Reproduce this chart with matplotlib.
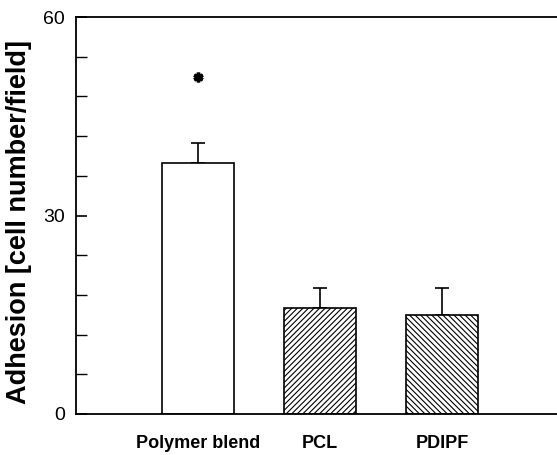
import numpy as np
import matplotlib.pyplot as plt
from matplotlib.ticker import MultipleLocator

plt.rcParams['font.family'] = ['Liberation Sans', 'DejaVu Sans']
plt.rcParams['hatch.linewidth'] = 0.8

# данные
groups = ['Polymer blend', 'PCL', 'PDIPF']
adhesion = [38, 16, 15]
err_up = [3, 3, 4]
hatches = ['', '//////', '\\\\\\\\\\\\']
star_y = 51

fig = plt.figure(figsize=(5.57, 4.55), dpi=100)
ax = fig.add_axes([76 / 557, 1 - 414 / 455, 481 / 557, 397 / 455])

x = np.arange(1, len(groups) + 1)
for xi, v, e, h in zip(x, adhesion, err_up, hatches):
    ax.bar(xi, v, width=0.59, color='white', edgecolor='black', linewidth=1.2,
           hatch=h, zorder=2)
    ax.errorbar(xi, v, yerr=[[0], [e]], fmt='none', ecolor='black',
                elinewidth=1.2, capsize=5, capthick=1.2, zorder=1)

# звездочка значимости
ax.plot(x[0], star_y, marker=(6, 2, 0), ms=7, mew=2.5, color='black')

ax.set_xlim(0, 3.94)
ax.set_ylim(0, 60)
ax.set_xticks(x)
ax.set_xticklabels(groups, fontsize=13, fontweight='bold')
ax.set_yticks([0, 30, 60])
ax.yaxis.set_minor_locator(MultipleLocator(6))
ax.tick_params(axis='y', which='both', direction='in', labelsize=14, pad=8)
ax.tick_params(axis='y', which='major', length=8, width=1.2)
ax.tick_params(axis='y', which='minor', length=8, width=1)
ax.tick_params(axis='x', length=0, pad=15)

ax.spines['right'].set_visible(False)
for s in ['left', 'top', 'bottom']:
    ax.spines[s].set_linewidth(1.3)

ax.set_ylabel('Adhesion [cell number/field]', fontsize=19.5, fontweight='bold')
ax.yaxis.set_label_coords(-0.092, 0.484)

fig.savefig('out.png', dpi=100)
